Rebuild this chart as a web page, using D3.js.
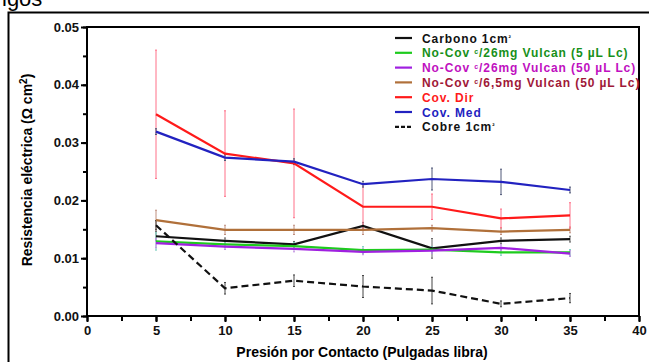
<!DOCTYPE html>
<html>
<head>
<meta charset="utf-8">
<script src="https://cdn.jsdelivr.net/npm/d3@7"></script>
<style>
  body { margin: 0; background: #fff; }
  text { font-family: "Liberation Sans", Arial, sans-serif; }
</style>
</head>
<body>
<div id="chart"></div>
<script>
// presion (x) values
var presion = [5, 10, 15, 20, 25, 30, 35];

// series values
var carbono   = [0.0138, 0.0130, 0.0124, 0.0156, 0.0117, 0.0130, 0.0133];
var noCov5    = [0.0129, 0.0124, 0.0121, 0.0114, 0.0115, 0.0110, 0.0110];
var noCov50   = [0.0126, 0.0120, 0.0116, 0.0111, 0.0113, 0.0118, 0.0108];
var noCov65   = [0.0166, 0.0149, 0.0149, 0.0149, 0.0152, 0.0146, 0.0149];
var covDir    = [0.0349, 0.0281, 0.0264, 0.0189, 0.0189, 0.0169, 0.0174];
var covMed    = [0.0319, 0.0274, 0.0267, 0.0228, 0.0237, 0.0232, 0.0218];
var cobre     = [0.0157, 0.0048, 0.0061, 0.0051, 0.0044, 0.0021, 0.0031];

// error bars (+/-)
var errCarbono = [0.0008, 0.0005, 0.0005, 0.0006, 0.0017, 0.0005, 0.0005];
var errNoCov5  = [0.0015, 0.0006, 0.0006, 0.0006, 0.0005, 0.0005, 0.0005];
var errNoCov50 = [0.0008, 0.0005, 0.0005, 0.0005, 0.0005, 0.0005, 0.0005];
var errNoCov65 = [0.0017, 0.0008, 0.0008, 0.0008, 0.0005, 0.0005, 0.0005];
var errCovDir  = [0.0111, 0.0074, 0.0094, 0.0040, 0.0022, 0.0016, 0.0022];
var errCovMed  = [0.0005, 0.0005, 0.0005, 0.0005, 0.0019, 0.0022, 0.0005];
var errCobre   = [0.0008, 0.0010, 0.0010, 0.0019, 0.0023, 0.0005, 0.0008];

var xTicks = [0, 5, 10, 15, 20, 25, 30, 35, 40];
var yTicks = [0.00, 0.01, 0.02, 0.03, 0.04, 0.05];

function drawChart() {
  var series = [
    { pre: "Carbono 1cm", sup: "²", vals: carbono, err: errCarbono, color: "#111", text: "#111", errColor: "#666", dash: null },
    { pre: "No-Cov ", c: true, post: "/26mg Vulcan (5 µL Lc)", vals: noCov5, err: errNoCov5, color: "#1ecb1e", text: "#17901a", errColor: "#7fcfc0", dash: null },
    { pre: "No-Cov ", c: true, post: "/26mg Vulcan (50 µL Lc)", vals: noCov50, err: errNoCov50, color: "#a020e0", text: "#c010c0", errColor: "#c090e0", dash: null },
    { pre: "No-Cov ", c: true, post: "/6,5mg Vulcan (50 µL Lc)", vals: noCov65, err: errNoCov65, color: "#b0703a", text: "#a01838", errColor: "#c09080", dash: null },
    { pre: "Cov. Dir", vals: covDir, err: errCovDir, color: "#ff1a1a", text: "#ff1a1a", errColor: "#ff7088", dash: null },
    { pre: "Cov. Med", vals: covMed, err: errCovMed, color: "#2222c0", text: "#2222c0", errColor: "#505878", dash: null },
    { pre: "Cobre 1cm", sup: "²", vals: cobre, err: errCobre, color: "#111", text: "#111", errColor: "#444", dash: "7,4" }
  ];

  var W = 649, H = 362;
  var mLeft = 87, mRight = 639, mTop = 27, mBottom = 316;

  var svg = d3.select("#chart").append("svg")
    .attr("width", W)
    .attr("height", H);

  // cropped caption above the figure
  svg.append("text")
    .attr("x", 2).attr("y", 6)
    .style("font-size", "22px")
    .text("igos");

  // outer frame
  svg.append("rect")
    .attr("x", 8.5).attr("y", 12.5)
    .attr("width", 660).attr("height", 400)
    .attr("fill", "none")
    .attr("stroke", "#000")
    .attr("stroke-width", 2);

  var x = d3.scaleLinear().domain([0, 40]).range([mLeft, mRight]);
  var y = d3.scaleLinear().domain([0, 0.05]).range([mBottom, mTop]);

  // plot frame
  svg.append("rect")
    .attr("x", mLeft).attr("y", mTop)
    .attr("width", mRight - mLeft).attr("height", mBottom - mTop)
    .attr("fill", "none")
    .attr("stroke", "#000")
    .attr("stroke-width", 2);

  // x axis with minor ticks
  var xMinor = d3.range(0, 40.1, 2.5);
  svg.append("g")
    .attr("transform", "translate(0," + mBottom + ")")
    .call(d3.axisBottom(x).tickValues(xMinor).tickSize(5).tickFormat(""))
    .call(function (g) { g.select(".domain").remove(); g.selectAll("line").attr("stroke-width", 2); });

  svg.append("g")
    .attr("transform", "translate(0," + mBottom + ")")
    .call(d3.axisBottom(x).tickValues(xTicks).tickSize(6).tickPadding(4).tickFormat(d3.format("d")))
    .call(function (g) {
      g.select(".domain").remove();
      g.selectAll("line").attr("stroke-width", 2);
      g.selectAll("text").style("font-size", "13px").style("font-weight", "bold").attr("fill", "#111");
    });

  // y axis with minor ticks
  var yMinor = d3.range(0, 0.0501, 0.005);
  svg.append("g")
    .attr("transform", "translate(" + mLeft + ",0)")
    .call(d3.axisLeft(y).tickValues(yMinor).tickSize(4).tickFormat(""))
    .call(function (g) { g.select(".domain").remove(); g.selectAll("line").attr("stroke-width", 2); });

  svg.append("g")
    .attr("transform", "translate(" + mLeft + ",0)")
    .call(d3.axisLeft(y).tickValues(yTicks).tickSize(6).tickPadding(2).tickFormat(d3.format(".2f")))
    .call(function (g) {
      g.select(".domain").remove();
      g.selectAll("line").attr("stroke-width", 2);
      g.selectAll("text").style("font-size", "13px").style("font-weight", "bold").attr("fill", "#111");
    });

  // axis titles
  svg.append("text")
    .attr("x", 362).attr("y", 357)
    .attr("text-anchor", "middle")
    .style("font-size", "14px").style("font-weight", "bold")
    .text("Presión por Contacto (Pulgadas libra)");

  var yt = svg.append("text")
    .attr("transform", "translate(32,170) rotate(-90)")
    .attr("text-anchor", "middle")
    .style("font-size", "14px").style("font-weight", "bold");
  yt.append("tspan").text("Resistencia eléctrica (Ω cm");
  yt.append("tspan").attr("dy", -5).style("font-size", "10px").text("2");
  yt.append("tspan").attr("dy", 5).text(")");

  // error bars
  series.forEach(function (s) {
    var g = svg.append("g");
    s.vals.forEach(function (v, i) {
      var px = x(presion[i]);
      g.append("line")
        .attr("x1", px).attr("x2", px)
        .attr("y1", y(v + s.err[i])).attr("y2", y(v - s.err[i]))
        .attr("stroke", s.errColor).attr("stroke-width", 1);
      [v + s.err[i], v - s.err[i]].forEach(function (e) {
        g.append("line")
          .attr("x1", px - 1).attr("x2", px + 1)
          .attr("y1", y(e)).attr("y2", y(e))
          .attr("stroke", s.errColor).attr("stroke-width", 1);
      });
    });
  });

  // lines
  var line = d3.line()
    .x(function (d, i) { return x(presion[i]); })
    .y(function (d) { return y(d); });

  series.forEach(function (s) {
    svg.append("path")
      .datum(s.vals)
      .attr("d", line)
      .attr("fill", "none")
      .attr("stroke", s.color)
      .attr("stroke-width", 2.2)
      .attr("stroke-dasharray", s.dash);
  });

  // legend
  var legend = svg.append("g");
  series.forEach(function (s, i) {
    var ly = 38 + i * 14.8;
    legend.append("line")
      .attr("x1", 395).attr("x2", 412)
      .attr("y1", ly).attr("y2", ly)
      .attr("stroke", s.color)
      .attr("stroke-width", 2.2)
      .attr("stroke-dasharray", s.dash ? "4,2" : null);
    var t = legend.append("text")
      .attr("x", 422).attr("y", ly + 4.5)
      .attr("fill", s.text)
      .style("font-size", "12px").style("font-weight", "bold")
      .style("letter-spacing", "0.9px");
    t.append("tspan").text(s.pre);
    if (s.c) {
      t.append("tspan").attr("dy", -3).style("font-size", "7px").text("c");
      t.append("tspan").attr("dy", 3).text(s.post);
    }
    if (s.sup) {
      t.append("tspan").attr("dy", -3).style("font-size", "7px").text(s.sup);
    }
  });
}

drawChart();
</script>
</body>
</html>
